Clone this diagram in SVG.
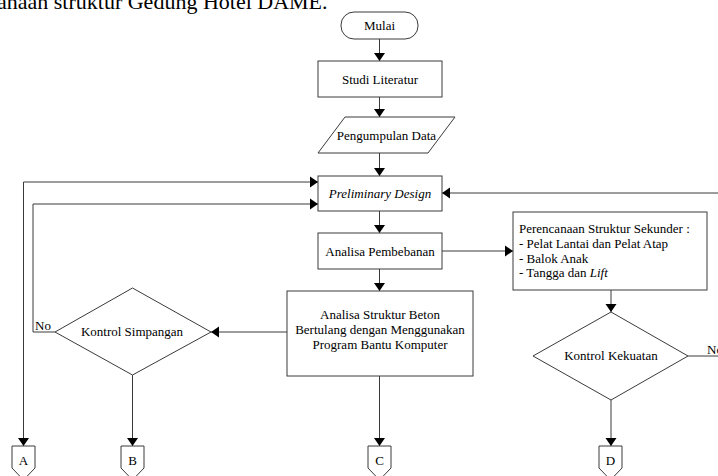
<svg xmlns="http://www.w3.org/2000/svg" width="718" height="476" viewBox="0 0 718 476">
<defs>
<marker id="arr" markerUnits="userSpaceOnUse" markerWidth="12" markerHeight="12" viewBox="0 0 12 12" refX="10" refY="6" orient="auto">
<path d="M2,0.5 L10,6 L2,11.5 Z" fill="#000"/>
</marker>
<style>
.n{fill:#fff;stroke:#3a3a3a;stroke-width:1}
.t{font-family:"Liberation Serif","Times New Roman",serif;font-size:13px;fill:#000}
.c{text-anchor:middle}
.e{fill:none;stroke:#3a3a3a;stroke-width:1}
.a{marker-end:url(#arr)}
</style>
</defs>
<rect width="718" height="476" fill="#fff"/>
<text x="-3" y="9" style="font-family:'Liberation Serif','Times New Roman',serif;font-size:22px;fill:#000">anaan struktur Gedung Hotel DAME.</text>
<g id="connectors">
<path class="e a" d="M379.5,39 V61"/>
<path class="e a" d="M379.5,97 V117"/>
<path class="e a" d="M379.5,153 V176"/>
<path class="e a" d="M379.5,211 V233"/>
<path class="e a" d="M379.5,269 V291"/>
<path class="e a" d="M442,251 H513"/>
<path class="e a" d="M287,332 H211"/>
<path class="e a" d="M55,332 H33 V204 H318"/>
<path class="e a" d="M23.5,182 H318"/>
<path class="e a" d="M23.5,182 V446"/>
<path class="e a" d="M132.5,375 V446"/>
<path class="e a" d="M379.5,376 V446"/>
<path class="e a" d="M611,290 V312"/>
<path class="e a" d="M611,400 V446"/>
<path class="e" d="M688,356 H718"/>
<path class="e a" d="M718,193 H442"/>
<text class="t" x="35" y="330">No</text>
<text class="t" x="707" y="354">No</text>
</g>
<g id="mulai"><rect class="n" x="341" y="12" width="77" height="27" rx="13" ry="13"/><text class="t c" x="379.5" y="30">Mulai</text></g>
<g id="studi"><rect class="n" x="318" y="61" width="124" height="36"/><text class="t c" x="380" y="83.5">Studi Literatur</text></g>
<g id="pengumpulan"><polygon class="n" points="345,117 455,117 428,153 318,153"/><text class="t c" x="386.5" y="139.5">Pengumpulan Data</text></g>
<g id="preliminary"><rect class="n" x="318" y="176" width="124" height="35"/><text class="t c" x="380" y="198" font-style="italic">Preliminary Design</text></g>
<g id="pembebanan"><rect class="n" x="318" y="233" width="124" height="36"/><text class="t c" x="380" y="255.5">Analisa Pembebanan</text></g>
<g id="analisa"><rect class="n" x="287" y="291" width="186" height="85"/>
<text class="t c" x="380" y="319">Analisa Struktur Beton</text>
<text class="t c" x="380" y="334">Bertulang dengan Menggunakan</text>
<text class="t c" x="380" y="349">Program Bantu Komputer</text></g>
<g id="perencanaan"><rect class="n" x="513" y="212" width="194" height="78"/>
<text class="t" x="519" y="233">Perencanaan Struktur Sekunder :</text>
<text class="t" x="519" y="248">- Pelat Lantai dan Pelat Atap</text>
<text class="t" x="519" y="262.5">- Balok Anak</text>
<text class="t" x="519" y="277">- Tangga dan <tspan font-style="italic">Lift</tspan></text></g>
<g id="simpangan"><polygon class="n" points="132.5,288 211,332 132.5,375 55,332"/><text class="t c" x="132" y="336">Kontrol Simpangan</text></g>
<g id="kekuatan"><polygon class="n" points="611,312 688,356 611,400 533,356"/><text class="t c" x="611" y="360">Kontrol Kekuatan</text></g>
<g id="A"><polygon class="n" points="12,446 35,446 35,468 23.5,480 12,468"/><text class="t c" x="23.5" y="465">A</text></g>
<g id="B"><polygon class="n" points="121,446 144,446 144,468 132.5,480 121,468"/><text class="t c" x="132.5" y="465">B</text></g>
<g id="C"><polygon class="n" points="368,446 391,446 391,468 379.5,480 368,468"/><text class="t c" x="379.5" y="465">C</text></g>
<g id="D"><polygon class="n" points="599,446 622,446 622,468 610.5,480 599,468"/><text class="t c" x="610.5" y="465">D</text></g>
</svg>
